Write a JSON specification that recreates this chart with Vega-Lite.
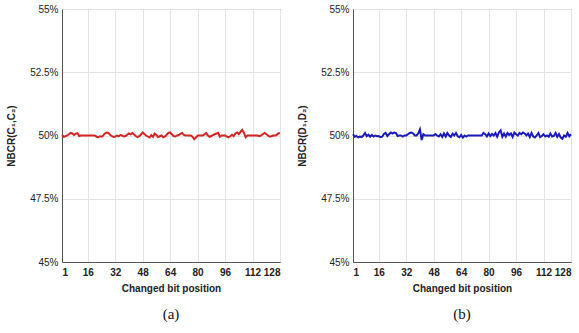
{
  "$schema": "https://vega.github.io/schema/vega-lite/v6.json",
  "background": "white",
  "padding": {"left": 6, "top": 3, "right": 5, "bottom": 5},
  "spacing": 12,
  "datasets": {
    "a": [
      {"x":1,"y":50.02},{"x":2,"y":49.95},{"x":3,"y":49.97},{"x":4,"y":50.0},{"x":5,"y":50.05},{"x":6,"y":50.1},{"x":7,"y":50.08},{"x":8,"y":50.02},{"x":9,"y":50.07},{"x":10,"y":50.09},
      {"x":11,"y":49.98},{"x":12,"y":50.0},{"x":13,"y":50.0},{"x":14,"y":50.0},{"x":15,"y":50.0},{"x":16,"y":50.0},{"x":17,"y":50.0},{"x":18,"y":50.0},{"x":19,"y":50.0},{"x":20,"y":50.0},
      {"x":21,"y":49.96},{"x":22,"y":49.93},{"x":23,"y":49.97},{"x":24,"y":49.95},{"x":25,"y":50.0},{"x":26,"y":50.08},{"x":27,"y":50.12},{"x":28,"y":50.1},{"x":29,"y":50.03},{"x":30,"y":49.98},
      {"x":31,"y":49.94},{"x":32,"y":49.96},{"x":33,"y":50.0},{"x":34,"y":49.97},{"x":35,"y":50.02},{"x":36,"y":50.0},{"x":37,"y":49.96},{"x":38,"y":49.98},{"x":39,"y":50.03},{"x":40,"y":50.08},
      {"x":41,"y":50.05},{"x":42,"y":50.1},{"x":43,"y":50.04},{"x":44,"y":49.98},{"x":45,"y":49.94},{"x":46,"y":49.97},{"x":47,"y":50.04},{"x":48,"y":50.12},{"x":49,"y":50.06},{"x":50,"y":50.0},
      {"x":51,"y":49.96},{"x":52,"y":49.92},{"x":53,"y":50.02},{"x":54,"y":49.95},{"x":55,"y":50.08},{"x":56,"y":50.02},{"x":57,"y":49.94},{"x":58,"y":49.97},{"x":59,"y":50.0},{"x":60,"y":49.93},
      {"x":61,"y":49.96},{"x":62,"y":50.03},{"x":63,"y":50.1},{"x":64,"y":50.12},{"x":65,"y":50.05},{"x":66,"y":49.98},{"x":67,"y":49.96},{"x":68,"y":50.0},{"x":69,"y":50.02},{"x":70,"y":50.06},
      {"x":71,"y":50.1},{"x":72,"y":50.02},{"x":73,"y":50.0},{"x":74,"y":50.0},{"x":75,"y":50.0},{"x":76,"y":50.0},{"x":77,"y":49.95},{"x":78,"y":49.85},{"x":79,"y":49.92},{"x":80,"y":50.0},
      {"x":81,"y":50.0},{"x":82,"y":50.0},{"x":83,"y":50.0},{"x":84,"y":50.05},{"x":85,"y":50.1},{"x":86,"y":50.0},{"x":87,"y":49.95},{"x":88,"y":49.98},{"x":89,"y":50.02},{"x":90,"y":50.05},
      {"x":91,"y":50.08},{"x":92,"y":50.1},{"x":93,"y":49.95},{"x":94,"y":50.0},{"x":95,"y":50.0},{"x":96,"y":50.0},{"x":97,"y":49.96},{"x":98,"y":49.93},{"x":99,"y":49.97},{"x":100,"y":50.03},
      {"x":101,"y":49.98},{"x":102,"y":50.08},{"x":103,"y":50.12},{"x":104,"y":50.05},{"x":105,"y":50.15},{"x":106,"y":50.22},{"x":107,"y":50.1},{"x":108,"y":49.93},{"x":109,"y":50.0},{"x":110,"y":50.0},
      {"x":111,"y":50.0},{"x":112,"y":50.0},{"x":113,"y":50.0},{"x":114,"y":50.0},{"x":115,"y":50.0},{"x":116,"y":49.97},{"x":117,"y":50.0},{"x":118,"y":50.05},{"x":119,"y":50.1},{"x":120,"y":50.06},
      {"x":121,"y":50.0},{"x":122,"y":49.95},{"x":123,"y":49.97},{"x":124,"y":50.0},{"x":125,"y":50.0},{"x":126,"y":50.02},{"x":127,"y":50.08},{"x":128,"y":50.1}
    ],
    "b": [
      {"x":1,"y":50.05},{"x":2,"y":49.95},{"x":3,"y":49.98},{"x":4,"y":49.93},{"x":5,"y":49.96},{"x":6,"y":49.94},{"x":7,"y":50.0},{"x":8,"y":50.1},{"x":9,"y":49.97},{"x":10,"y":50.03},
      {"x":11,"y":49.95},{"x":12,"y":50.02},{"x":13,"y":49.96},{"x":14,"y":50.0},{"x":15,"y":49.97},{"x":16,"y":49.98},{"x":17,"y":49.93},{"x":18,"y":49.95},{"x":19,"y":50.06},{"x":20,"y":50.1},
      {"x":21,"y":49.98},{"x":22,"y":50.05},{"x":23,"y":50.12},{"x":24,"y":50.08},{"x":25,"y":50.12},{"x":26,"y":50.1},{"x":27,"y":49.98},{"x":28,"y":50.0},{"x":29,"y":50.0},{"x":30,"y":49.96},
      {"x":31,"y":50.0},{"x":32,"y":50.0},{"x":33,"y":50.05},{"x":34,"y":50.1},{"x":35,"y":50.12},{"x":36,"y":50.08},{"x":37,"y":50.0},{"x":38,"y":50.0},{"x":39,"y":50.08},{"x":40,"y":50.24},
      {"x":41,"y":49.82},{"x":42,"y":50.05},{"x":43,"y":50.0},{"x":44,"y":50.0},{"x":45,"y":50.0},{"x":46,"y":50.0},{"x":47,"y":50.0},{"x":48,"y":50.0},{"x":49,"y":50.06},{"x":50,"y":50.0},
      {"x":51,"y":49.96},{"x":52,"y":50.05},{"x":53,"y":49.94},{"x":54,"y":50.08},{"x":55,"y":49.96},{"x":56,"y":50.1},{"x":57,"y":50.0},{"x":58,"y":49.94},{"x":59,"y":50.07},{"x":60,"y":50.0},
      {"x":61,"y":50.1},{"x":62,"y":49.97},{"x":63,"y":49.93},{"x":64,"y":50.02},{"x":65,"y":49.92},{"x":66,"y":50.0},{"x":67,"y":49.96},{"x":68,"y":50.0},{"x":69,"y":50.0},{"x":70,"y":50.0},
      {"x":71,"y":50.0},{"x":72,"y":50.0},{"x":73,"y":50.0},{"x":74,"y":50.0},{"x":75,"y":50.0},{"x":76,"y":50.0},{"x":77,"y":50.1},{"x":78,"y":50.05},{"x":79,"y":49.96},{"x":80,"y":50.08},
      {"x":81,"y":49.98},{"x":82,"y":50.06},{"x":83,"y":50.0},{"x":84,"y":50.1},{"x":85,"y":49.95},{"x":86,"y":50.12},{"x":87,"y":50.2},{"x":88,"y":49.95},{"x":89,"y":50.08},{"x":90,"y":49.96},
      {"x":91,"y":50.1},{"x":92,"y":50.02},{"x":93,"y":50.08},{"x":94,"y":49.94},{"x":95,"y":50.12},{"x":96,"y":50.05},{"x":97,"y":50.0},{"x":98,"y":50.1},{"x":99,"y":50.05},{"x":100,"y":50.12},
      {"x":101,"y":50.08},{"x":102,"y":50.0},{"x":103,"y":50.08},{"x":104,"y":49.94},{"x":105,"y":50.1},{"x":106,"y":49.96},{"x":107,"y":49.92},{"x":108,"y":50.0},{"x":109,"y":50.1},{"x":110,"y":49.94},
      {"x":111,"y":49.98},{"x":112,"y":50.05},{"x":113,"y":49.96},{"x":114,"y":50.0},{"x":115,"y":49.95},{"x":116,"y":50.08},{"x":117,"y":49.96},{"x":118,"y":49.98},{"x":119,"y":50.1},{"x":120,"y":49.95},
      {"x":121,"y":50.06},{"x":122,"y":49.92},{"x":123,"y":49.87},{"x":124,"y":50.0},{"x":125,"y":49.95},{"x":126,"y":50.1},{"x":127,"y":49.97},{"x":128,"y":50.05}
    ]
  },
  "config": {
    "view": {"stroke": "#666666", "strokeWidth": 1},
    "axis": {
      "labelFont": "Liberation Sans", "labelFontSize": 10, "labelColor": "#222222",
      "titleFont": "Liberation Sans", "titleFontSize": 10, "titleFontWeight": "bold", "titleColor": "#222222",
      "gridColor": "#e4e4e4", "gridWidth": 1, "domainColor": "#555555", "tickColor": "#555555", "ticks": false
    },
    "title": {"font": "Liberation Serif", "fontSize": 15, "fontWeight": "normal", "color": "#111111"}
  },
  "hconcat": [
    {
      "data": {"name": "a"},
      "width": 218, "height": 253,
      "title": {"text": "(a)", "orient": "bottom", "offset": 14},
      "mark": {"type": "line", "color": "#d42525", "strokeWidth": 2},
      "encoding": {
        "x": {"field": "x", "type": "quantitative", "scale": {"domain": [1, 128], "nice": false, "zero": false},
              "axis": {"values": [1, 16, 32, 48, 64, 80, 96, 112, 128], "title": "Changed bit position", "labelFontWeight": "bold", "labelPadding": 5, "titlePadding": 6}},
        "y": {"field": "y", "type": "quantitative", "scale": {"domain": [45, 55], "nice": false, "zero": false},
              "axis": {"values": [45, 47.5, 50, 52.5, 55], "labelExpr": "datum.value + '%'", "title": "NBCR(C₁,C₂)", "labelPadding": 4, "titlePadding": 13}}
      }
    },
    {
      "data": {"name": "b"},
      "width": 218, "height": 253,
      "title": {"text": "(b)", "orient": "bottom", "offset": 14},
      "mark": {"type": "line", "color": "#1a1ab8", "strokeWidth": 2},
      "encoding": {
        "x": {"field": "x", "type": "quantitative", "scale": {"domain": [1, 128], "nice": false, "zero": false},
              "axis": {"values": [1, 16, 32, 48, 64, 80, 96, 112, 128], "title": "Changed bit position", "labelFontWeight": "bold", "labelPadding": 5, "titlePadding": 6}},
        "y": {"field": "y", "type": "quantitative", "scale": {"domain": [45, 55], "nice": false, "zero": false},
              "axis": {"values": [45, 47.5, 50, 52.5, 55], "labelExpr": "datum.value + '%'", "title": "NBCR(D₁,D₂)", "labelPadding": 4, "titlePadding": 13}}
      }
    }
  ]
}
